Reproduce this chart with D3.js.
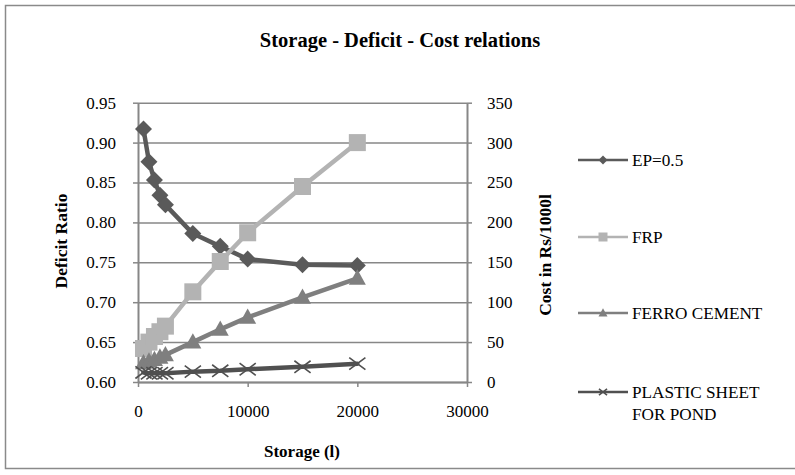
<!DOCTYPE html>
<html>
<head>
<meta charset="utf-8">
<script src="https://cdn.jsdelivr.net/npm/d3@7"></script>
<style>
  html, body { margin: 0; padding: 0; background: #fff; }
  svg { display: block; font-family: "Liberation Serif", "Times New Roman", serif; }
</style>
</head>
<body>
<svg id="chart" width="795" height="475"></svg>
<script>
// Storage sizes (litres)
const storage = [500, 1000, 1500, 2000, 2500, 5000, 7500, 10000, 15000, 20000];
// Deficit ratio for EP = 0.5 (left axis)
const deficitEP = [0.917, 0.876, 0.853, 0.834, 0.822, 0.786, 0.770, 0.754, 0.747, 0.746];
// Cost in Rs/1000 l (right axis)
const costFRP = [42, 50, 57, 63, 70, 113, 151, 187, 245, 300];
const costFerro = [24, 26, 28, 31, 34, 50, 66, 81, 106, 130];
const costPlastic = [12, 11, 11, 11, 11, 13, 14, 16, 19, 23];

const leftTicks = [0.60, 0.65, 0.70, 0.75, 0.80, 0.85, 0.90, 0.95];
const rightTicks = [0, 50, 100, 150, 200, 250, 300, 350];
const xTicks = [0, 10000, 20000, 30000];

const seriesNames = ["EP=0.5", "FRP", "FERRO CEMENT", "PLASTIC SHEET\nFOR POND"];
const seriesColors = ["#5a5a5a", "#b3b3b3", "#7f7f7f", "#505050"];
const seriesShapes = ["diamond", "square", "triangle", "cross"];

const FONT = "'Liberation Serif', 'Times New Roman', serif";
const svg = d3.select("#chart");
const plot = { left: 138, right: 467, top: 102.7, bottom: 382 };
const axisColor = "#878787";

// Outer chart frame (right edge runs past the page)
svg.append("rect")
  .attr("x", 5.5).attr("y", 5.5).attr("width", 795).attr("height", 463)
  .attr("fill", "#fff").attr("stroke", "#8a8a8a").attr("stroke-width", 1.5);

// Title
svg.append("text")
  .attr("x", 400).attr("y", 47)
  .attr("text-anchor", "middle")
  .attr("font-weight", "bold").attr("font-size", 20.5)
  .text("Storage - Deficit - Cost relations");

const x = d3.scaleLinear().domain([0, 30000]).range([plot.left, plot.right]);
const yL = d3.scaleLinear().domain([0.6, 0.95]).range([plot.bottom, plot.top]);
const yR = d3.scaleLinear().domain([0, 350]).range([plot.bottom, plot.top]);

// Horizontal gridlines
svg.append("g")
  .attr("transform", `translate(${plot.left},0)`)
  .call(d3.axisLeft(yL).tickValues(leftTicks).tickSize(-(plot.right - plot.left)).tickFormat(""))
  .call(g => g.select(".domain").remove())
  .call(g => g.selectAll("line").attr("stroke", axisColor).attr("stroke-width", 1.5));

function styleAxis(g) {
  g.attr("font-family", FONT).attr("font-size", 17);
  g.select(".domain").attr("stroke", axisColor).attr("stroke-width", 2);
  g.selectAll(".tick line").attr("stroke", axisColor).attr("stroke-width", 1.5);
  g.selectAll(".tick text").attr("fill", "#000");
}

// Left axis
svg.append("g")
  .attr("transform", `translate(${plot.left},0)`)
  .call(d3.axisLeft(yL).tickValues(leftTicks).tickSize(5).tickSizeOuter(0).tickPadding(17).tickFormat(d3.format(".2f")))
  .call(styleAxis);

// Right axis
svg.append("g")
  .attr("transform", `translate(${plot.right},0)`)
  .call(d3.axisRight(yR).tickValues(rightTicks).tickSize(5).tickSizeOuter(0).tickPadding(15).tickFormat(d3.format("d")))
  .call(styleAxis);

// Bottom axis
svg.append("g")
  .attr("transform", `translate(0,${plot.bottom})`)
  .call(d3.axisBottom(x).tickValues(xTicks).tickSize(5).tickSizeOuter(0).tickPadding(18).tickFormat(d3.format("d")))
  .call(styleAxis);

// Axis titles
svg.append("text")
  .attr("transform", `translate(67,241) rotate(-90)`)
  .attr("text-anchor", "middle").attr("font-weight", "bold").attr("font-size", 17.5)
  .text("Deficit Ratio");
svg.append("text")
  .attr("transform", `translate(551,255) rotate(-90)`)
  .attr("text-anchor", "middle").attr("font-weight", "bold").attr("font-size", 17.5)
  .text("Cost in Rs/1000l");
svg.append("text")
  .attr("x", 302).attr("y", 457)
  .attr("text-anchor", "middle").attr("font-weight", "bold").attr("font-size", 17)
  .text("Storage (l)");

// Marker drawing
function marker(g, shape, color, s) {
  const h = s / 2;
  if (shape === "diamond") {
    g.append("path").attr("d", `M0,${-h}L${h},0L0,${h}L${-h},0Z`).attr("fill", color);
  } else if (shape === "square") {
    g.append("rect").attr("x", -h).attr("y", -h).attr("width", s).attr("height", s).attr("fill", color);
  } else if (shape === "triangle") {
    g.append("path").attr("d", `M0,${-h * 1.05}L${h},${h * 0.75}L${-h},${h * 0.75}Z`).attr("fill", color);
  } else {
    const c = h * 0.9;
    g.append("path").attr("d", `M${-c},${-c * 0.75}L${c},${c * 0.75}M${-c},${c * 0.75}L${c},${-c * 0.75}`)
      .attr("stroke", color).attr("stroke-width", 1.6).attr("fill", "none");
  }
}

const seriesData = [
  { vals: deficitEP, y: yL },
  { vals: costFRP, y: yR },
  { vals: costFerro, y: yR },
  { vals: costPlastic, y: yR }
];

seriesData.forEach((s, i) => {
  const pts = storage.map((st, j) => [x(st), s.y(s.vals[j])]);
  const g = svg.append("g");
  g.append("path")
    .attr("d", d3.line()(pts))
    .attr("fill", "none").attr("stroke", seriesColors[i])
    .attr("stroke-width", 4.5).attr("stroke-linejoin", "round").attr("stroke-linecap", "round");
  pts.forEach(p => {
    const m = g.append("g").attr("transform", `translate(${p[0]},${p[1]})`);
    marker(m, seriesShapes[i], seriesColors[i], seriesShapes[i] === "cross" ? 18 : 17);
  });
});

// Legend
const legendY = [160, 237, 313, 392];
seriesNames.forEach((name, i) => {
  const g = svg.append("g").attr("transform", `translate(578,${legendY[i]})`);
  g.append("line").attr("x1", 0).attr("x2", 50).attr("y1", 0).attr("y2", 0)
    .attr("stroke", seriesColors[i]).attr("stroke-width", 2.5);
  const m = g.append("g").attr("transform", "translate(25,0)");
  marker(m, seriesShapes[i], seriesColors[i], 9);
  const t = g.append("text").attr("x", 54).attr("y", 6).attr("font-size", 17.2);
  name.split("\n").forEach((line, k) => {
    t.append("tspan").attr("x", 54).attr("dy", k === 0 ? 0 : 21.5).text(line);
  });
});
</script>
</body>
</html>
